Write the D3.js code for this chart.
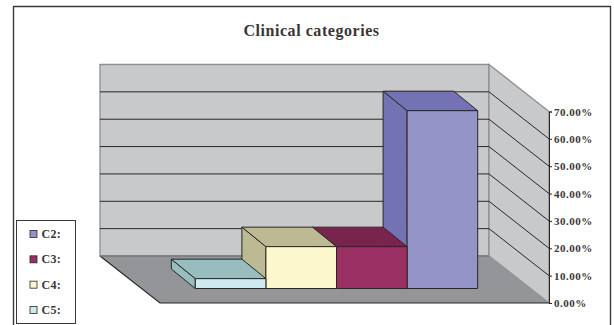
<!DOCTYPE html>
<html>
<head>
<meta charset="utf-8">
<script src="https://cdn.jsdelivr.net/npm/d3@7"></script>
<style>
  html, body { margin: 0; padding: 0; background: #fff; }
  svg { display: block; }
  text { font-family: "Liberation Serif", serif; font-weight: bold; fill: #3a3637; }
</style>
</head>
<body>
<svg id="chart" width="614" height="325"></svg>
<script>
const chartTitle = "Clinical categories";
const categories = ["C2:", "C3:", "C4:", "C5:"];
const shares = [65, 15.3, 15.3, 3.6];
const tickValues = [0, 10, 20, 30, 40, 50, 60, 70];
const faceColours = ["#9494c8", "#9a3064", "#fdf8cb", "#cdeaf0"];
const shadeColours = ["#7373b4", "#78244f", "#bdb992", "#97bdbf"];

const INK = "#2a2627";
const svg = d3.select("#chart");

// Outer frame runs off the bottom of the page
svg.append("path")
  .attr("d", "M13.5,325V6.5H610.5V325")
  .attr("fill", "none").attr("stroke", "#3a3a3a").attr("stroke-width", 1.4);

svg.append("text")
  .attr("x", 311.5).attr("y", 36)
  .attr("text-anchor", "middle")
  .style("font-size", "16px").style("letter-spacing", "0.55px")
  .text(chartTitle);

// Box geometry: the front plane of the floor, and the shift to the back wall
const frontLeft = 160, frontRight = 549, frontBase = 303;
const depthX = 60, depthY = 47;
const y = d3.scaleLinear().domain([0, 70]).range([frontBase, 111.5]);
const rise = v => frontBase - y(v);

const pts = a => a.map(p => p.join(",")).join(" ");

// Back wall
svg.append("polygon")
  .attr("points", pts([
    [frontLeft - depthX, y(70) - depthY], [frontRight - depthX, y(70) - depthY],
    [frontRight - depthX, y(0) - depthY], [frontLeft - depthX, y(0) - depthY]]))
  .attr("fill", "#c8c9cb").attr("stroke", "#8e8f91").attr("stroke-width", 1.3);

// Side wall
svg.append("polygon")
  .attr("points", pts([
    [frontRight - depthX, y(70) - depthY], [frontRight, y(70)],
    [frontRight, y(0)], [frontRight - depthX, y(0) - depthY]]))
  .attr("fill", "#c8c9cb").attr("stroke", "#8e8f91").attr("stroke-width", 1.3);

// Floor
svg.append("polygon")
  .attr("points", pts([
    [frontLeft - depthX, y(0) - depthY], [frontRight - depthX, y(0) - depthY],
    [frontRight, y(0)], [frontLeft, y(0)]]))
  .attr("fill", "#949598");
svg.append("polyline")
  .attr("points", pts([
    [frontLeft - depthX, y(0) - depthY], [frontLeft, y(0)], [frontRight, y(0)]]))
  .attr("fill", "none").attr("stroke", INK).attr("stroke-width", 1.1);
svg.append("line")
  .attr("x1", frontLeft - depthX).attr("x2", frontRight - depthX)
  .attr("y1", y(0) - depthY).attr("y2", y(0) - depthY)
  .attr("stroke", "#77787a").attr("stroke-width", 1.3);

// Gridlines wrap across the back and side walls
const grid = svg.append("g").attr("fill", "none").attr("stroke", INK).attr("stroke-width", 1);
tickValues.filter(t => t > 0 && t < 70).forEach(t => {
  grid.append("polyline").attr("points", pts([
    [frontLeft - depthX, y(t) - depthY],
    [frontRight - depthX, y(t) - depthY],
    [frontRight, y(t)]]));
});

// Bars stand on the floor, drawn from the far right towards the left
const barBase = 288.5, barDepthX = 24, barDepthY = 19.5;
const x = d3.scaleBand().domain(categories.slice().reverse()).range([195.3, 477.7]).padding(0);

const bars = svg.append("g").attr("stroke", INK).attr("stroke-width", 1).attr("stroke-linejoin", "round");
categories.forEach((c, i) => {
  const x0 = x(c), x1 = x0 + x.bandwidth();
  const top = barBase - rise(shares[i]);
  const g = bars.append("g");
  // side face
  g.append("polygon").attr("fill", shadeColours[i]).attr("points", pts([
    [x0 - barDepthX, top - barDepthY], [x0, top],
    [x0, barBase], [x0 - barDepthX, barBase - barDepthY]]));
  // top face
  g.append("polygon").attr("fill", shadeColours[i]).attr("points", pts([
    [x0 - barDepthX, top - barDepthY], [x1 - barDepthX, top - barDepthY],
    [x1, top], [x0, top]]));
  // front face
  g.append("rect").attr("x", x0).attr("y", top)
    .attr("width", x1 - x0).attr("height", barBase - top)
    .attr("fill", faceColours[i]);
});

// Value axis on the front edge of the side wall
const axis = d3.axisRight(y)
  .tickValues(tickValues)
  .tickSize(3)
  .tickPadding(2)
  .tickFormat(d => d3.format(".2f")(d) + "%");
const axisG = svg.append("g").attr("transform", `translate(${frontRight},0)`).call(axis);
axisG.selectAll("path, line").attr("stroke", INK).attr("stroke-width", 1);
axisG.selectAll("text")
  .style("font-family", '"Liberation Serif", serif')
  .style("font-size", "11px").style("letter-spacing", "0.5px")
  .attr("fill", "#3a3637");

// Legend
svg.append("rect")
  .attr("x", 16.5).attr("y", 220.5).attr("width", 59).attr("height", 103)
  .attr("fill", "#fff").attr("stroke", "#3a3a3a").attr("stroke-width", 1);
const legendY = d3.scalePoint().domain(categories).range([234, 310]);
const legend = svg.append("g");
categories.forEach((c, i) => {
  legend.append("rect")
    .attr("x", 30).attr("y", legendY(c) - 3.5).attr("width", 7).attr("height", 7)
    .attr("fill", faceColours[i]).attr("stroke", INK).attr("stroke-width", 0.8);
  legend.append("text")
    .attr("x", 41.5).attr("y", legendY(c) + 4)
    .style("font-size", "12px").style("letter-spacing", "0.3px")
    .text(c);
});
</script>
</body>
</html>
